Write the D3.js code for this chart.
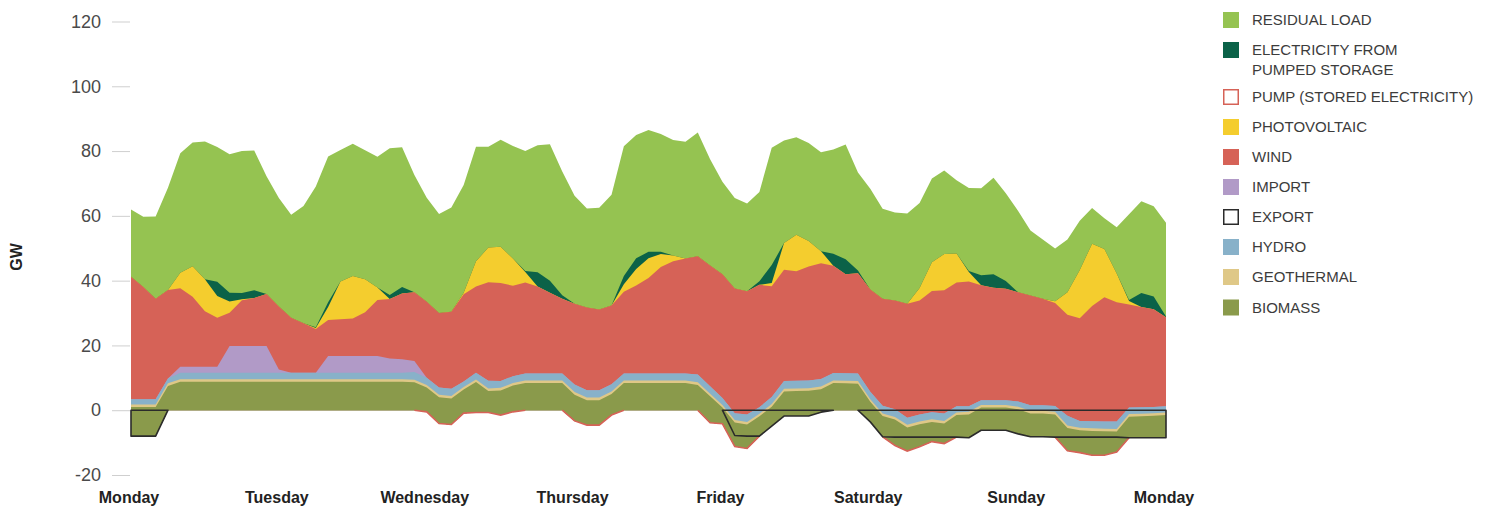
<!DOCTYPE html>
<html>
<head>
<meta charset="UTF-8">
<title>Electricity supply, one week</title>
<script src="https://d3js.org/d3.v7.min.js"></script>
<style>
  body { margin: 0; background: #fff; }
  text { font-family: "Liberation Sans", Arial, sans-serif; }
</style>
</head>
<body>
<div id="chart"></div>
<script>
// one sample every two hours, Monday 0h .. next Monday 0h
var hours = d3.range(0, 169, 2);
var dayLabels = ["Monday", "Tuesday", "Wednesday", "Thursday", "Friday", "Saturday", "Sunday", "Monday"];

// GW, drawn below zero (outlines)
var exportGW = [8,8,8,0,0,0,0,0,0,0, 0,0,0,0,0,0,0,0,0,0, 0,0,0,0,0,0,0,0,0,0, 0,0,0,0,0,0,0,0,0,0,
  0,0,0,0,0,0,0,0,0,7.8, 8,8,4.9,1.8,1.8,1.8,0.6,0,0,0, 3.6,8.2,8.3,8.3,8.3,8.3,8.3,8.3,8.5,6.2,
  6.2,6.2,7.3,8.2,8.2,8.3,8.3,8.3,8.3,8.3, 8.3,8.5,8.5,8.5,8.5];
var pumpGW = [0,0,0,0,0,0,0,0,0,0, 0,0,0,0,0,0,0,0,0,0, 0,0,0,0,0.5,4.1,4.4,0.9,0.7,0.7, 1.5,0.5,0,0,0,0,3.3,4.6,4.6,1.5,
  0,0,0,0,0,0,0,3.9,4.2,3.4, 3.8,0,0,0,0,0,0,0,0,0, 0,0,2.6,4.3,3.0,1.4,2.0,0,0,0,
  0,0,0,0,0,0,4.2,4.8,5.6,5.6, 4.6,0,0,0,0];

// generation, stacked from the bottom
var biomass = [9,9,9,7.5,8.75,8.75,8.75,8.75,8.75,8.75, 8.75,8.75,8.75,8.75,8.75,8.75,8.75,8.75,8.75,8.75,
  8.75,8.75,8.75,8.6,7.5,8.1,8.0,7.3,9.4,6.6, 7.6,8.1,8.4,8.4,8.4,8.4,8.1,7.7,7.7,6.5,
  8.4,8.4,8.4,8.4,8.4,8.4,7.8,8.2,5.0,7.4, 7.4,6.1,6.0,7.6,7.7,7.8,7.1,8.4,8.3,8.2,
  6.2,6.4,8.0,7.3,7.0,6.1,6.2,6.8,7.2,7.0, 7.0,7.0,7.6,7.2,7.2,7.0,7.0,6.9,7.5,7.4, 6.3,6.5,6.6,6.8,7.0];
var geothermal = [0.8,0.8,0.8,0.8,0.8,0.8,0.8,0.8,0.8,0.8, 0.8,0.8,0.8,0.8,0.8,0.8,0.8,0.8,0.8,0.8,
  0.8,0.8,0.8,0.8,0.8,0.8,0.8,0.8,0.8,0.8, 0.8,0.8,0.8,0.8,0.8,0.8,0.8,0.8,0.8,0.8,
  0.8,0.8,0.8,0.8,0.8,0.8,0.8,0.8,0.8,0.8, 0.8,0.8,0.8,0.8,0.8,0.8,0.8,0.8,0.8,0.8,
  0.8,0.8,0.8,0.8,0.8,0.8,0.8,0.8,0.8,0.8, 0.8,0.8,0.8,0.8,0.8,0.8,0.8,0.8,0.8,0.8, 0.8,0.8,0.8,0.8,0.8];
var hydro = [1.6,1.6,1.6,1.5,2,2,2,2,2,2, 2,2,2,2,2,2,2,2,2,2, 2,2,2,2.4,2.2,2.2,2.2,1.7,2.1,2.4,
  2.1,2.1,2.1,2.1,2.1,2.1,2.3,2.3,2.3,2.2, 2.1,2.1,2.1,2.1,2.1,2.1,2.4,2.3,2.2,2.1,
  2.3,2.0,2.2,2.4,2.4,2.4,2.3,2.3,2.3,2.3, 2.3,2.4,2.4,2.2,2.2,2.2,2.3,1.9,1.7,1.5,
  1.5,1.5,1.6,1.7,1.7,1.8,3.0,2.1,2.2,2.2, 2.3,2.0,2.0,1.9,1.9];
var importGW = [0,0,0,0,1.9,1.9,1.9,1.9,8.3,8.3, 8.3,8.3,1.0,0,0,0,5.2,5.2,5.2,5.2, 5.2,4.4,4.2,3.4,0,0,0,0,0,0,
  0,0,0,0,0,0,0,0,0,0, 0,0,0,0,0,0,0,0,0,0, 0,0,0,0,0,0,0,0,0,0,
  0,0,0,0,0,0,0,0,0,0, 0,0,0,0,0,0,0,0,0,0, 0,0,0,0,0];
var wind = [37.8,34.6,31.0,27.3,24.2,21.6,17.1,15.1,10.2,14.1, 14.8,16.0,19.5,17.0,15.3,13.5,11.1,11.3,11.6,13.5,
  17.3,18.4,20.3,21.2,23.5,23.0,23.8,26.9,26.6,30.4, 30.3,27.9,28.1,26.9,25.0,23.1,25.0,25.5,24.9,24.3,
  25.3,27.2,29.5,32.9,34.7,35.5,36.5,37.3,38.2,38.5, 38.0,37.8,34.2,34.4,33.8,35.2,35.8,33.1,30.6,31.0,
  31.6,33.0,33.6,35.2,35.2,37.4,38.0,38.2,38.5,35.5, 34.7,34.4,33.7,33.9,32.9,31.8,31.2,31.7,35.6,38.4,
  36.8,31.8,31.0,30.2,27.5];
var photovoltaic = [0,0,0,0,4.8,9.4,9.9,6.7,3.5,0.3, 0,0,0,0,0,0.3,4.0,11.7,13.1,10.2, 3.8,0,0,0,0,0,0,0.5,7.8,10.7,
  11.2,8.4,3.3,0,0,0,0,0,0,0, 2.3,5.1,6.1,4.0,1.8,0,0,0,0,0, 0,0,1.0,8.2,11.3,7.8,3.7,0,0,0,
  0,0,0,0,3.8,8.9,11.2,9.0,3.0,0, 0,0,0,0,0,0.5,6.9,14.9,19.2,14.9, 8.9,1.1,0,0,0];
var pumpedStorage = [0,0,0,0,0,0,0,4.4,2.7,1.9, 2.4,0,0,0,0,0.3,1.5,0,0,0, 0,1.2,2.0,0,0,0,0,0,0,0,
  0,0,0.3,4.4,3.7,1.1,0,0,0,0, 2.5,3.3,2.0,0.7,0,0,0,0,0,0, 0,1.1,5.5,0,0,0,0,3.7,4.6,0.8,
  0,0,0,0,0,0,0,0,0.3,3.1, 4.2,2.4,0,0,0,0,0,0,0,0, 0,0.3,4.3,3.9,0.2];
var residualLoad = [20.8,21.7,25.4,31.6,36.9,38.2,42.5,41.6,42.8,43.9, 43.1,36.4,33.5,31.8,36.2,43.4,45.0,40.6,40.8,39.8,
  40.4,45.3,43.1,36.2,32.1,30.6,32.2,33.2,35.3,31.1, 33.0,34.8,37.0,39.2,42.1,38.2,33.3,30.6,31.4,34.2,
  40.1,38.1,37.6,36.4,35.6,36.1,38.2,32.8,28.5,27.9, 27.1,27.6,36.2,31.7,30.1,30.3,30.5,32.2,35.4,30.3,
  31.1,27.8,27.1,27.8,26.3,25.8,25.8,22.6,25.6,26.8, 29.8,27.1,25.1,20.1,18.3,16.3,16.3,15.2,11.0,9.5,
  14.3,26.5,28.3,27.9,29.0];

var keys = ["biomass", "geothermal", "hydro", "import", "wind", "pv", "storage", "residual"];
var colors = {
    residual: "#95c351", storage: "#0b6248", pv: "#f4cd2e", wind: "#d66257",
    import: "#b19ac7", hydro: "#88b1c9", geothermal: "#dfc887", biomass: "#8a9a4b"
};

var outerWidth = 1488, outerHeight = 506;

var svg = d3.select("#chart").append("svg")
    .attr("width", outerWidth)
    .attr("height", outerHeight);

var x = d3.scaleLinear().domain([0, 168]).range([131, 1166]);
var y = d3.scaleLinear().domain([-20, 120]).range([475, 21.5]);

var rows = hours.map(function(h, i) {
    return {h: h, biomass: biomass[i], geothermal: geothermal[i], hydro: hydro[i], import: importGW[i],
            wind: wind[i], pv: photovoltaic[i], storage: pumpedStorage[i], residual: residualLoad[i]};
});

// the stack starts below zero by export + pump
function offsetBase(series, order) {
    for (var j = 0; j < series[0].length; j++) {
        var s = -(exportGW[j] + pumpGW[j]);
        for (var k = 0; k < order.length; k++) {
            var d = series[order[k]][j], v = d[1] - d[0];
            d[0] = s; d[1] = s += v;
        }
    }
}
var stacked = d3.stack().keys(keys).offset(offsetBase)(rows);

// paint top layer first, each from the base, so no seams show
var area = d3.area()
    .x(function(d) { return x(d.data.h); })
    .y0(function(d, i) { return y(stacked[0][i][0]); })
    .y1(function(d) { return y(d[1]); });

svg.append("g").selectAll("path")
    .data(stacked.slice().reverse())
    .enter().append("path")
    .attr("d", area)
    .attr("fill", function(s) { return colors[s.key]; });

// pump: red line along its lower edge
var pumpLine = d3.line()
    .defined(function(h, i) { return pumpGW[i] > 0 || pumpGW[i - 1] > 0 || pumpGW[i + 1] > 0; })
    .x(function(h) { return x(h); })
    .y(function(h, i) { return y(-(exportGW[i] + pumpGW[i])); });
svg.append("path")
    .attr("d", pumpLine(hours))
    .attr("fill", "none")
    .attr("stroke", "#d66257")
    .attr("stroke-width", 1.6);

// export: outlined area between 0 and -export
var exportArea = d3.area()
    .defined(function(h, i) { return exportGW[i] > 0 || exportGW[i - 1] > 0 || exportGW[i + 1] > 0; })
    .x(function(h) { return x(h); })
    .y0(y(0))
    .y1(function(h, i) { return y(-exportGW[i]); });
svg.append("path")
    .attr("d", exportArea(hours))
    .attr("fill", "none")
    .attr("stroke", "#2b2b2b")
    .attr("stroke-width", 1.6)
    .attr("stroke-linejoin", "round");

// y axis
var yAxis = svg.append("g")
    .attr("transform", "translate(130,0)")
    .call(d3.axisLeft(y)
        .tickValues(d3.range(-20, 121, 20))
        .tickSize(18)
        .tickPadding(11)
        .tickFormat(function(d) { return String(d); }));
yAxis.select(".domain").remove();
yAxis.selectAll("line").attr("stroke", "#cfcfcf");
yAxis.selectAll("text")
    .style("font-size", "18px")
    .style("font-family", "'Liberation Sans', Arial, sans-serif")
    .attr("fill", "#4a4a4a");

svg.append("text")
    .attr("transform", "translate(22,257) rotate(-90)")
    .attr("text-anchor", "middle")
    .style("font-size", "16px")
    .style("font-weight", "bold")
    .attr("fill", "#222")
    .text("GW");

// day labels
var xAxis = svg.append("g")
    .attr("transform", "translate(-2.5,485)")
    .call(d3.axisBottom(x)
        .tickValues(d3.range(0, 169, 24))
        .tickSize(0)
        .tickPadding(7)
        .tickFormat(function(d, i) { return dayLabels[i]; }));
xAxis.select(".domain").remove();
xAxis.selectAll("text")
    .style("font-size", "16px")
    .style("font-weight", "bold")
    .style("font-family", "'Liberation Sans', Arial, sans-serif")
    .attr("fill", "#222");

// legend
var legendItems = [
    {lines: ["RESIDUAL LOAD"], fill: colors.residual, y: 20},
    {lines: ["ELECTRICITY FROM", "PUMPED STORAGE"], fill: colors.storage, y: 50},
    {lines: ["PUMP (STORED ELECTRICITY)"], stroke: "#d66257", y: 97},
    {lines: ["PHOTOVOLTAIC"], fill: colors.pv, y: 127},
    {lines: ["WIND"], fill: colors.wind, y: 157},
    {lines: ["IMPORT"], fill: colors.import, y: 187},
    {lines: ["EXPORT"], stroke: "#2b2b2b", y: 217},
    {lines: ["HYDRO"], fill: colors.hydro, y: 247},
    {lines: ["GEOTHERMAL"], fill: colors.geothermal, y: 277},
    {lines: ["BIOMASS"], fill: colors.biomass, y: 307.5}
];
var legend = svg.append("g");
legendItems.forEach(function(it) {
    if (it.fill) {
        legend.append("rect")
            .attr("x", 1223).attr("y", it.y - 8)
            .attr("width", 16).attr("height", 16)
            .attr("fill", it.fill);
    } else {
        legend.append("rect")
            .attr("x", 1223.75).attr("y", it.y - 7.25)
            .attr("width", 14.5).attr("height", 14.5)
            .attr("fill", "#fff")
            .attr("stroke", it.stroke)
            .attr("stroke-width", 1.5);
    }
    it.lines.forEach(function(line, j) {
        legend.append("text")
            .attr("x", 1252).attr("y", it.y + j * 20)
            .attr("dy", "0.36em")
            .style("font-size", "15px")
            .attr("fill", "#3c3c3c")
            .text(line);
    });
});
</script>
</body>
</html>
